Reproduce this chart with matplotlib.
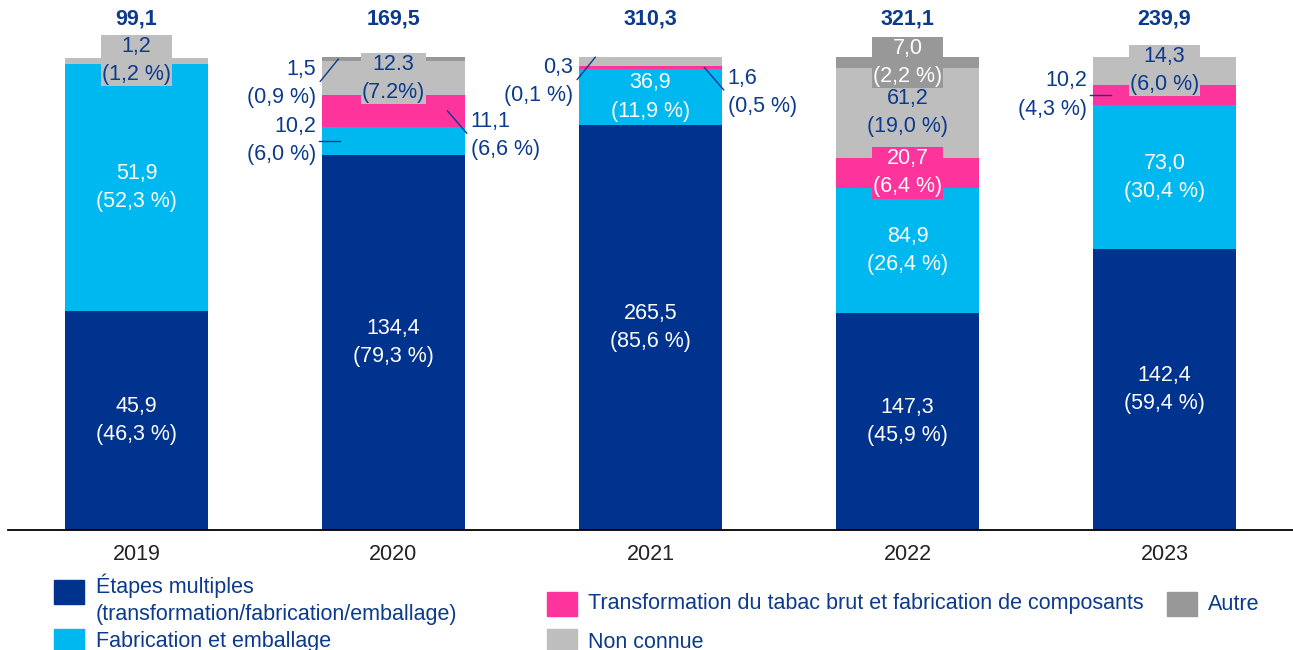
import matplotlib.pyplot as plt
from matplotlib.patches import Rectangle

plt.rcParams['font.family'] = ['Liberation Sans', 'DejaVu Sans']

# Donnees
annees = ['2019', '2020', '2021', '2022', '2023']
totaux = [99.1, 169.5, 310.3, 321.1, 239.9]

multi_val = [45.9, 134.4, 265.5, 147.3, 142.4]
multi_pct = [46.3, 79.3, 85.6, 45.9, 59.4]
fab_val = [51.9, 10.2, 36.9, 84.9, 73.0]
fab_pct = [52.3, 6.0, 11.9, 26.4, 30.4]
transfo_val = [0.0, 11.1, 1.6, 20.7, 10.2]
transfo_pct = [0.0, 6.6, 0.5, 6.4, 4.3]
inconnue_val = [1.2, 12.3, 6.0, 61.2, 14.3]
inconnue_pct = [1.2, 7.2, 1.9, 19.0, 6.0]
autre_val = [0.0, 1.5, 0.3, 7.0, 0.0]
autre_pct = [0.0, 0.9, 0.1, 2.2, 0.0]

BLEU_F = '#00338D'
BLEU_C = '#00B8F0'
ROSE = '#FD349C'
GRIS_F = '#989898'
GRIS_C = '#BEBEBE'
TXT = '#0C3A8C'

series = [
    ('Étapes multiples\n(transformation/fabrication/emballage)', multi_val, multi_pct, BLEU_F),
    ('Fabrication et emballage', fab_val, fab_pct, BLEU_C),
    ('Transformation du tabac brut et fabrication de composants', transfo_val, transfo_pct, ROSE),
    ('Non connue', inconnue_val, inconnue_pct, GRIS_C),
    ('Autre', autre_val, autre_pct, GRIS_F),
]

# placement des etiquettes : (serie, annee) -> mode
# 'in' = centre, couleur texte, fond eventuel ; 'lf' / 'ld' / 'rd' = a l'exterieur avec trait
etiquettes = {
    (0, 0): ('in', 'white', None), (1, 0): ('in', 'white', None), (3, 0): ('in', TXT, GRIS_C),
    (0, 1): ('in', 'white', None), (1, 1): ('lf',), (2, 1): ('rd',), (3, 1): ('in', TXT, GRIS_C), (4, 1): ('ld',),
    (0, 2): ('in', 'white', None), (1, 2): ('in', 'white', None), (2, 2): ('rd',), (4, 2): ('ld',),
    (0, 3): ('in', 'white', None), (1, 3): ('in', 'white', None), (2, 3): ('in', 'white', ROSE),
    (3, 3): ('in', TXT, None), (4, 3): ('in', 'white', GRIS_F),
    (0, 4): ('in', 'white', None), (1, 4): ('in', 'white', None), (2, 4): ('lf',), (3, 4): ('in', TXT, GRIS_C),
}
textes_speciaux = {(3, 1): '12.3\n(7.2%)'}


def fr(v):
    return f'{v:.1f}'.replace('.', ',')


fig = plt.figure(figsize=(12.93, 6.5), dpi=100)
ax = fig.add_axes([8 / 1293, 120 / 650, 1285 / 1293, 530 / 650])

largeur = 0.56
x = list(range(len(annees)))
bas = [0.0] * len(annees)
FS = 15.5
LS = 1.45

for s, (nom, vals, pcts, coul) in enumerate(series):
    ax.bar(x, pcts, largeur, bottom=bas, color=coul, label=nom, zorder=2)
    for i in x:
        if (s, i) not in etiquettes:
            continue
        mode = etiquettes[(s, i)]
        milieu = bas[i] + pcts[i] / 2
        txt = textes_speciaux.get((s, i), f'{fr(vals[i])}\n({fr(pcts[i])} %)')
        gauche = i - largeur / 2
        droite = i + largeur / 2
        if mode[0] == 'in':
            bbox = None
            if mode[2] is not None:
                bbox = dict(boxstyle='square,pad=0.05', fc=mode[2], ec='none')
            ax.text(i, milieu, txt, ha='center', va='center', color=mode[1],
                    fontsize=FS, linespacing=LS, bbox=bbox, zorder=4)
        elif mode[0] == 'lf':
            ax.plot([gauche - 0.01, gauche + 0.07], [milieu, milieu], color=TXT, lw=1, zorder=4)
            ax.text(gauche - 0.02, milieu, txt, ha='right', va='center', color=TXT,
                    fontsize=FS, linespacing=LS)
        elif mode[0] == 'ld':
            ax.plot([gauche - 0.005, gauche + 0.065], [milieu - 4.7, milieu], color=TXT, lw=1, zorder=4)
            ax.text(gauche - 0.02, milieu - 5.2, txt, ha='right', va='center', color=TXT,
                    fontsize=FS, linespacing=LS)
        elif mode[0] == 'rd':
            ax.plot([droite - 0.07, droite + 0.005], [milieu, milieu - 4.7], color=TXT, lw=1, zorder=4)
            ax.text(droite + 0.02, milieu - 5.2, txt, ha='left', va='center', color=TXT,
                    fontsize=FS, linespacing=LS)
    bas = [b + p for b, p in zip(bas, pcts)]

for i, t in enumerate(totaux):
    ax.text(i, 100 + 38 / 4.73, fr(t), ha='center', va='center', color=TXT,
            fontsize=FS, fontweight='bold')

ax.set_xlim(-0.5, 4.5)
ax.set_ylim(0, 112.05)
ax.set_xticks(x)
ax.set_xticklabels(annees, fontsize=FS, color='#222222')
ax.tick_params(axis='x', length=0, pad=10)
ax.set_yticks([])
for sp in ['top', 'right', 'left']:
    ax.spines[sp].set_visible(False)
ax.spines['bottom'].set_color('black')
ax.spines['bottom'].set_linewidth(1.3)

# Legende manuelle (coordonnees en pixels de la figure)
W, H = 1293, 650
leg = [
    (0, 54, 580, 96, 599),
    (1, 54, 629, 96, 642),
    (2, 547, 592, 588, 604),
    (3, 547, 629, 588, 642),
    (4, 1167, 592, 1208, 604),
]
for s, xc, yc, xt, yt in leg:
    fig.patches.append(Rectangle((xc / W, 1 - (yc + 24) / H), 30 / W, 24 / H,
                                 transform=fig.transFigure, color=series[s][3]))
    fig.text(xt / W, 1 - yt / H, series[s][0], ha='left', va='center', color=TXT,
             fontsize=FS, linespacing=1.35)

fig.savefig('out.png', dpi=100)
